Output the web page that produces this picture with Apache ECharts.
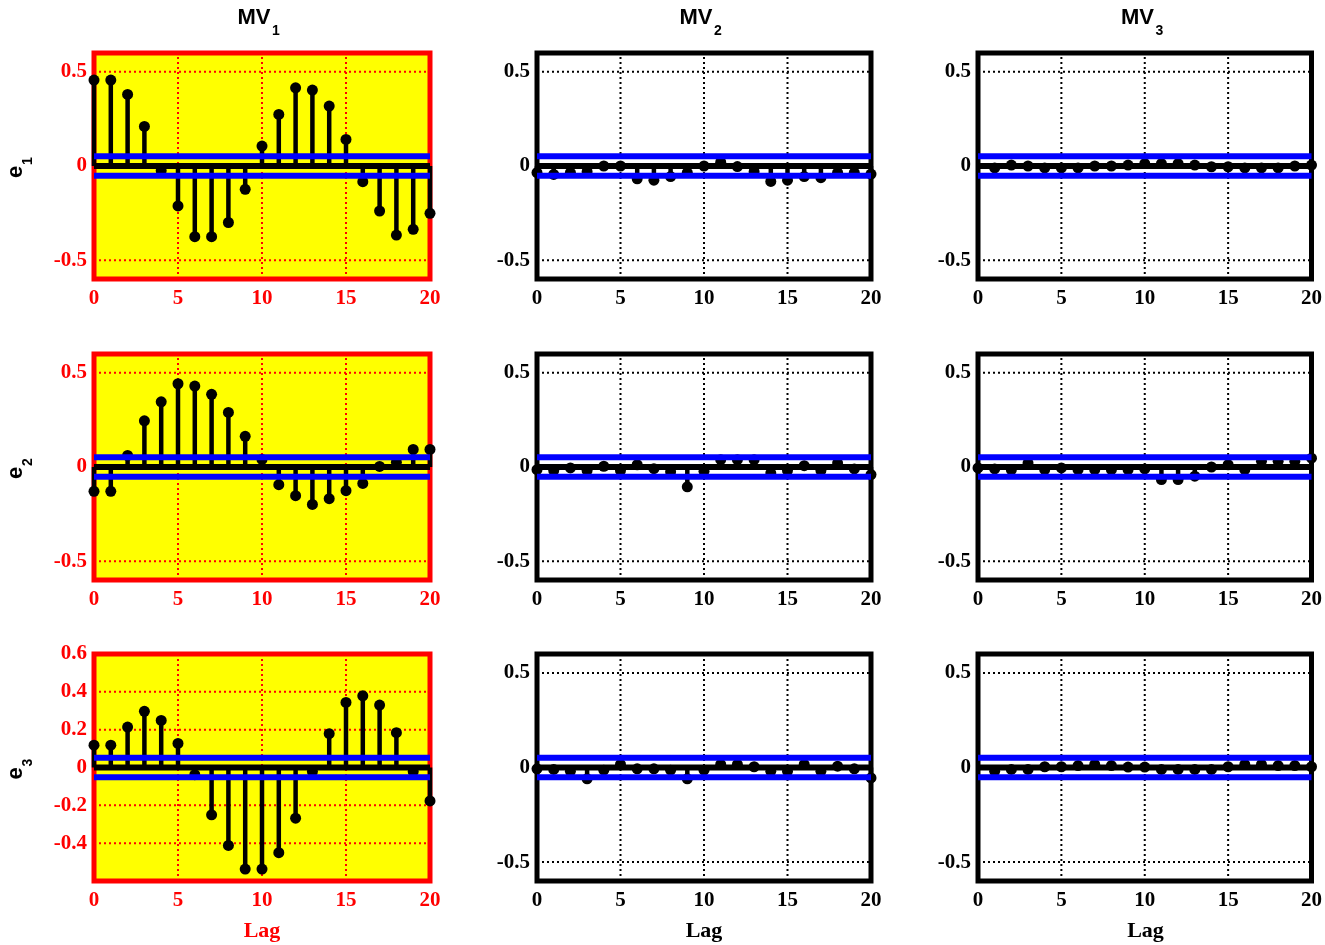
<!DOCTYPE html>
<html><head><meta charset="utf-8">
<script src="https://cdn.jsdelivr.net/npm/echarts@6/dist/echarts.min.js"></script>
<style>html,body{margin:0;padding:0;background:#fff}#c{width:1325px;height:945px}</style>
</head><body><div id="c"></div>
<script>
// ---------- data ----------
const lags = [0,1,2,3,4,5,6,7,8,9,10,11,12,13,14,15,16,17,18,19,20];
const e1_MV1 = [0.456,0.456,0.38,0.21,-0.025,-0.212,-0.375,-0.375,-0.30,-0.124,0.106,0.274,0.415,0.403,0.318,0.141,-0.083,-0.239,-0.367,-0.336,-0.251];
const e1_MV2 = [-0.035,-0.045,-0.035,-0.03,0.0,0.0,-0.068,-0.075,-0.056,-0.035,0.0,0.02,-0.003,-0.03,-0.082,-0.075,-0.056,-0.062,-0.035,-0.035,-0.043];
const e1_MV3 = [null,-0.01,0.005,0,-0.01,-0.01,-0.01,0,0,0.005,0.013,0.013,0.013,0.005,-0.004,-0.004,-0.01,-0.01,-0.01,0,0.005];
const e2_MV1 = [-0.129,-0.129,0.061,0.245,0.346,0.442,0.430,0.386,0.290,0.163,0.04,-0.094,-0.152,-0.199,-0.168,-0.126,-0.087,0.003,0.025,0.093,0.093];
const e2_MV2 = [-0.014,-0.018,-0.005,-0.018,0.004,-0.018,0.012,-0.009,-0.025,-0.105,-0.023,0.039,0.039,0.039,-0.032,-0.018,0.007,-0.018,0.021,-0.01,-0.04];
const e2_MV3 = [-0.005,-0.01,-0.015,0.021,-0.014,-0.005,-0.014,-0.014,-0.014,-0.014,-0.01,-0.067,-0.067,-0.049,0,0.012,-0.014,0.03,0.03,0.03,0.047];
const e3_MV1 = [0.118,0.118,0.214,0.297,0.249,0.127,-0.038,-0.25,-0.412,-0.537,-0.537,-0.45,-0.268,-0.021,0.179,0.344,0.379,0.330,0.184,-0.021,-0.177];
const e3_MV2 = [-0.007,-0.01,-0.02,-0.06,-0.014,0.016,-0.007,-0.007,-0.014,-0.06,-0.014,0.016,0.016,0.004,-0.02,-0.02,0.016,-0.02,0.007,-0.007,-0.055];
const e3_MV3 = [null,-0.02,-0.01,-0.01,0.004,0.004,0.01,0.016,0.01,0.002,0.002,-0.01,-0.01,-0.01,-0.01,0.004,0.016,0.016,0.01,0.01,0.004];

const colTitles = ['MV', 'MV', 'MV'];
const colSubs = ['1', '2', '3'];
const rowTitles = ['e', 'e', 'e'];
const rowSubs = ['1', '2', '3'];
const xTicks = [0, 5, 10, 15, 20];
const xGridVals = [5, 10, 15];
const yTicksStd = [-0.5, 0, 0.5];
const yTicksWide = [-0.4, -0.2, 0, 0.2, 0.4, 0.6];
const yGridStd = [-0.5, 0.5];
const yGridWide = [-0.4, -0.2, 0.2, 0.4];
const confBound = 0.052;
const xLabel = 'Lag';

const panels = [
  [e1_MV1, e1_MV2, e1_MV3],
  [e2_MV1, e2_MV2, e2_MV3],
  [e3_MV1, e3_MV2, e3_MV3]
];

// ---------- layout ----------
const colLeft = [94, 537, 978];
const colWidth = [336, 334, 335];
const rowTop = [53, 354, 654];
const rowHeight = [226, 226, 227];
const RED = '#ff0000', YEL = '#ffff00', BLUE = '#0000ff', BLK = '#000000';
const tickFont = 'Liberation Serif';

const grids = [], xAxes = [], yAxes = [], series = [], graphics = [];

function hLine(i, v, color, width, type, z) {
  series.push({
    type: 'line', xAxisIndex: i, yAxisIndex: i, data: [[0, v], [20, v]],
    showSymbol: false, symbol: 'none', silent: true, z: z, clip: false,
    lineStyle: { color: color, width: width, type: type, opacity: 1 }
  });
}
function vLine(i, v, yMin, yMax, color, width, type, z) {
  series.push({
    type: 'line', xAxisIndex: i, yAxisIndex: i, data: [[v, yMin], [v, yMax]],
    showSymbol: false, symbol: 'none', silent: true, z: z,
    lineStyle: { color: color, width: width, type: type, opacity: 1 }
  });
}

for (let r = 0; r < 3; r++) {
  for (let c = 0; c < 3; c++) {
    const i = r * 3 + c;
    const first = (c === 0);
    const fg = first ? RED : BLK;
    const wide = (r === 2 && c === 0);
    const yMin = -0.6, yMax = 0.6;
    grids.push({
      left: colLeft[c], top: rowTop[r], width: colWidth[c], height: rowHeight[r],
      show: true, backgroundColor: first ? YEL : '#ffffff',
      borderColor: fg, borderWidth: 5, containLabel: false
    });
    xAxes.push({
      type: 'value', gridIndex: i, min: 0, max: 20, interval: 5,
      axisLine: { show: false }, axisTick: { show: false }, splitLine: { show: false },
      axisLabel: { color: fg, fontFamily: tickFont, fontWeight: 'bold', fontSize: 21, margin: 9 }
    });
    yAxes.push({
      type: 'value', gridIndex: i, min: yMin, max: yMax,
      axisLine: { show: false }, axisTick: { show: false }, splitLine: { show: false },
      axisLabel: {
        color: fg, fontFamily: tickFont, fontWeight: 'bold', fontSize: 21, margin: 7,
        customValues: wide ? yTicksWide : yTicksStd,
        formatter: v => String(Math.round(v * 10) / 10)
      }
    });
    // dotted grid lines
    const dot = [2, 3];
    xGridVals.forEach(v => vLine(i, v, yMin, yMax, fg, 2, dot, 1));
    (wide ? yGridWide : yGridStd).forEach(v => hLine(i, v, fg, 2, dot, 1));

    const vals = panels[r][c];
    const pts = [];
    lags.forEach((l, k) => { if (vals[k] !== null && vals[k] !== undefined) pts.push([l, vals[k]]); });
    // stems
    series.push({
      type: 'bar', xAxisIndex: i, yAxisIndex: i, data: pts, barWidth: 4.5,
      itemStyle: { color: BLK, opacity: 1 }, silent: true, z: 2, clip: false
    });
    // baseline
    hLine(i, 0, BLK, 6, 'solid', 3);
    // markers
    series.push({
      type: 'scatter', xAxisIndex: i, yAxisIndex: i, data: pts, symbol: 'circle', symbolSize: 11,
      itemStyle: { color: BLK, opacity: 1 }, silent: true, z: 4, clip: false
    });
    // confidence bounds
    hLine(i, confBound, BLUE, 6, 'solid', 6);
    hLine(i, -confBound, BLUE, 6, 'solid', 6);
  }
}

// column titles
for (let c = 0; c < 3; c++) {
  const cx = colLeft[c] + colWidth[c] / 2;
  graphics.push({ type: 'text', x: cx - 8, y: 18, silent: true,
    style: { text: colTitles[c], font: 'bold 22px "Liberation Sans"', fill: BLK, textAlign: 'center', textVerticalAlign: 'middle' } });
  graphics.push({ type: 'text', x: cx + 14, y: 31, silent: true,
    style: { text: colSubs[c], font: 'bold 14px "Liberation Sans"', fill: BLK, textAlign: 'center', textVerticalAlign: 'middle' } });
  // x label
  graphics.push({ type: 'text', x: cx, y: 931, silent: true,
    style: { text: xLabel, font: 'bold 22px "Liberation Serif"', fill: c === 0 ? RED : BLK, textAlign: 'center', textVerticalAlign: 'middle' } });
}
// row titles
for (let r = 0; r < 3; r++) {
  const cy = rowTop[r] + rowHeight[r] / 2;
  graphics.push({ type: 'text', x: 16, y: cy + 6, rotation: Math.PI / 2, silent: true,
    style: { text: rowTitles[r], font: 'bold 22px "Liberation Sans"', fill: BLK, textAlign: 'center', textVerticalAlign: 'middle' } });
  graphics.push({ type: 'text', x: 28, y: cy - 5, rotation: Math.PI / 2, silent: true,
    style: { text: rowSubs[r], font: 'bold 14px "Liberation Sans"', fill: BLK, textAlign: 'center', textVerticalAlign: 'middle' } });
}

const chart = echarts.init(document.getElementById('c'), null, { renderer: 'canvas' });
chart.setOption({
  animation: false,
  backgroundColor: '#ffffff',
  grid: grids, xAxis: xAxes, yAxis: yAxes, series: series,
  graphic: graphics
});
</script>
</body></html>
